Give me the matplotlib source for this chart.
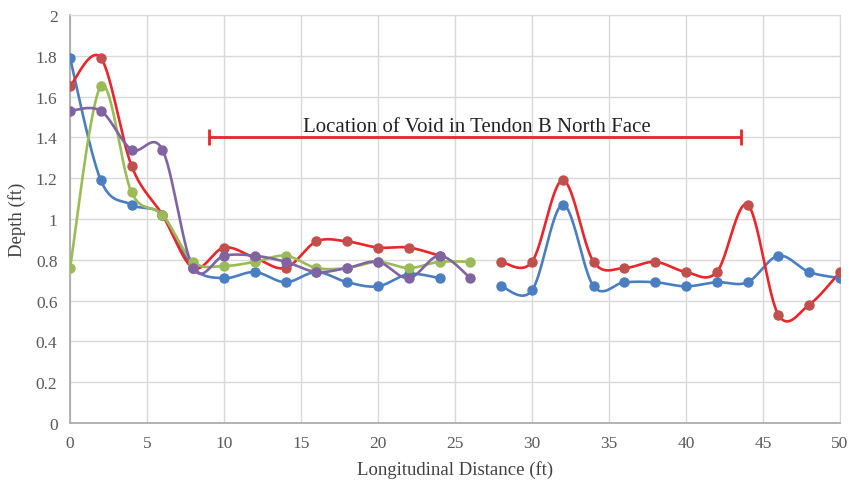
import numpy as np
import matplotlib
matplotlib.use("Agg")
import matplotlib.pyplot as plt

x = [0, 2, 4, 6, 8, 10, 12, 14, 16, 18, 20, 22, 24, 26,
     28, 30, 32, 34, 36, 38, 40, 42, 44, 46, 48, 50]
blue = [1.79, 1.19, 1.07, 1.02, 0.76, 0.71, 0.74, 0.69, 0.74, 0.69, 0.67, 0.73, 0.71, None,
        0.67, 0.65, 1.07, 0.67, 0.69, 0.69, 0.67, 0.69, 0.69, 0.82, 0.74, 0.71]
red = [1.65, 1.79, 1.26, 1.02, 0.76, 0.86, 0.81, 0.76, 0.89, 0.89, 0.86, 0.86, 0.82, None,
       0.79, 0.79, 1.19, 0.79, 0.76, 0.79, 0.74, 0.74, 1.07, 0.53, 0.58, 0.74]
green = [0.76, 1.65, 1.13, 1.02, 0.79, 0.77, 0.79, 0.82, 0.76, 0.76, 0.79, 0.76, 0.79, 0.79]
purple = [1.53, 1.53, 1.34, 1.34, 0.76, 0.82, 0.82, 0.79, 0.74, 0.76, 0.79, 0.71, 0.82, 0.71]

void_start, void_end, void_depth = 9, 43.6, 1.4
void_label = "Location of Void in Tendon B North Face"

SERIF = "Liberation Serif"


def smooth(xs, ys, n=30):
    """Excel-like smoothed line (Bezier with control points from neighbours)."""
    xs = np.asarray(xs, float)
    ys = np.asarray(ys, float)
    if len(xs) < 2:
        return xs, ys
    P = np.column_stack([xs, ys])
    out = [P[0:1]]
    t = np.linspace(0, 1, n)[1:, None]
    for i in range(len(P) - 1):
        p0 = P[i - 1] if i > 0 else P[i]
        p1 = P[i]
        p2 = P[i + 1]
        p3 = P[i + 2] if i + 2 < len(P) else P[i + 1]
        c1 = p1 + (p2 - p0) / 6.0
        c2 = p2 - (p3 - p1) / 6.0
        seg = ((1 - t) ** 3) * p1 + 3 * ((1 - t) ** 2) * t * c1 + 3 * (1 - t) * t ** 2 * c2 + t ** 3 * p2
        out.append(seg)
    Q = np.vstack(out)
    return Q[:, 0], Q[:, 1]


def runs(xs, ys):
    cur_x, cur_y = [], []
    for a, b in zip(xs, ys):
        if b is None:
            if cur_x:
                yield cur_x, cur_y
            cur_x, cur_y = [], []
        else:
            cur_x.append(a)
            cur_y.append(b)
    if cur_x:
        yield cur_x, cur_y


fig = plt.figure(figsize=(8.57, 4.81), dpi=100)
ax = fig.add_axes([70 / 857, 57 / 481, 770 / 857, 408 / 481])

series = [
    (blue, "#4A7EC0", "#4A7EC0"),
    (red, "#E8262B", "#C0504D"),
    (green, "#9BBB59", "#9BBB59"),
    (purple, "#8064A2", "#8064A2"),
]
for ys, lc, mc in series:
    xs = x[:len(ys)]
    for rx, ry in runs(xs, ys):
        sx, sy = smooth(rx, ry)
        ax.plot(sx, sy, color=lc, lw=1.9, solid_capstyle="round", zorder=3)
        ax.plot(rx, ry, "o", color=mc, ms=6.5, zorder=4)

ax.errorbar([(void_start + void_end) / 2], [void_depth],
            xerr=[[(void_end - void_start) / 2], [(void_end - void_start) / 2]],
            fmt="none", ecolor="#E8262B", elinewidth=2, capsize=6, capthick=2, zorder=5)
ax.text((void_start + void_end) / 2 + 0.1, void_depth + 0.055, void_label,
        ha="center", va="center", fontsize=15, family=SERIF, color="#222222")

ax.set_xlim(0, 50)
ax.set_ylim(0, 2)
ax.set_xticks(range(0, 51, 5))
ax.set_yticks(np.arange(0, 2.01, 0.2))
ax.set_yticklabels(["0", "0.2", "0.4", "0.6", "0.8", "1", "1.2", "1.4", "1.6", "1.8", "2"])
ax.grid(True, color="#D9D9D9", lw=1)
ax.set_axisbelow(True)
for s in ["top", "right"]:
    ax.spines[s].set_color("#D9D9D9")
for s in ["left", "bottom"]:
    ax.spines[s].set_color("#A6A6A6")
    ax.spines[s].set_linewidth(1.2)
ax.tick_params(length=0, pad=9, labelsize=12.5, labelcolor="#595959")
for lab in ax.get_xticklabels() + ax.get_yticklabels():
    lab.set_family(SERIF)
ax.set_xlabel("Longitudinal Distance (ft)", family=SERIF, fontsize=13.5, color="#404040", labelpad=6)
ax.set_ylabel("Depth (ft)", family=SERIF, fontsize=13.5, color="#404040", labelpad=7)

fig.savefig("out.png", dpi=100)
